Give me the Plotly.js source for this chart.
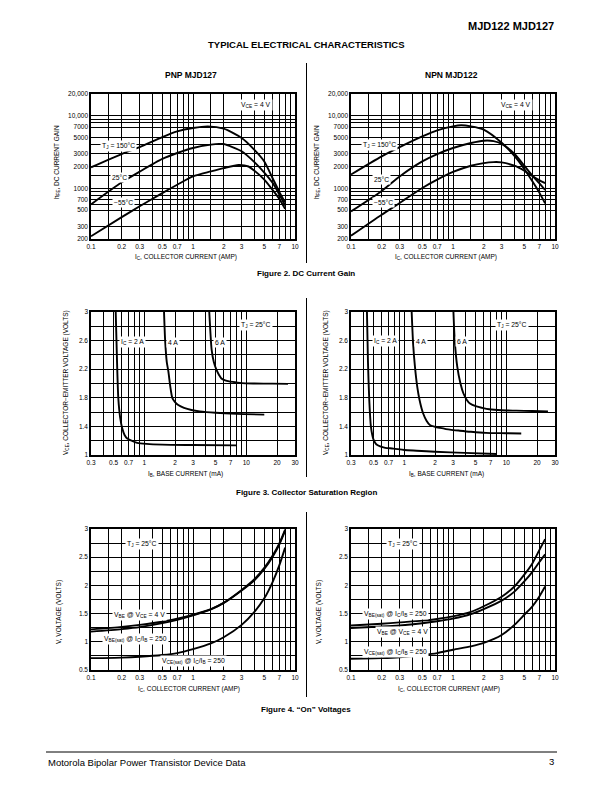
<!DOCTYPE html>
<html><head><meta charset="utf-8">
<script src="https://cdn.plot.ly/plotly-3.0.1.min.js"></script>
<style>html,body{margin:0;padding:0;background:#fff}#chart{width:612px;height:792px}</style>
</head><body><div id="chart"></div>
<script>
// ---------- Figure 2: DC current gain (hFE vs IC) ----------
const pnpHfe150X = [0.1,0.2,0.3,0.5,0.7,1,1.4,2,3,4,5,6,7,8];
const pnpHfe150Y = [1950,2970,3700,5100,6100,6800,7150,6650,4950,3400,2350,1400,900,640];
const pnpHfe25X  = [0.1,0.2,0.3,0.5,0.7,1,1.5,1.8,2,3,4,5,6,7,8];
const pnpHfe25Y  = [600,1210,1700,2540,3070,3600,4000,4100,4080,3250,2300,1650,1200,830,580];
const pnpHfeM55X = [0.1,0.2,0.3,0.5,0.7,1,1.5,2,2.8,3.5,4,5,6,7,8];
const pnpHfeM55Y = [218,400,565,860,1120,1460,1710,1900,2100,2000,1750,1320,960,720,520];

const npnHfe150X = [0.1,0.2,0.3,0.5,0.7,1,1.2,1.5,2,3,4,5,6,7,8];
const npnHfe150Y = [1550,2760,3700,5200,6300,7150,7400,7150,6450,4250,2800,1850,1250,880,620];
const npnHfe25X  = [0.1,0.2,0.3,0.5,0.7,1,1.5,2,2.5,3,4,5,6,7,8];
const npnHfe25Y  = [480,920,1460,2350,2970,3600,4220,4540,4480,4100,3000,2050,1500,1180,950];
const npnHfeM55X = [0.1,0.2,0.3,0.5,0.7,1,1.5,2,2.5,3,4,5,6,7,8];
const npnHfeM55Y = [222,433,628,1010,1315,1680,2050,2230,2300,2280,2050,1750,1480,1300,1180];

// ---------- Figure 3: collector saturation region (VCE vs IB) ----------
const pnpSat2X = [0.524,0.54,0.556,0.58,0.608,0.64,0.68,0.75,0.85,1.05,1.5,3,8];
const pnpSat2Y = [3.0,2.3,1.79,1.52,1.37,1.28,1.23,1.20,1.17,1.155,1.145,1.14,1.135];
const pnpSat4X = [1.56,1.6,1.66,1.72,1.8,1.88,2.0,2.15,2.45,2.9,3.5,5,8,15];
const pnpSat4Y = [3.0,2.6,2.3,2.17,1.95,1.80,1.74,1.70,1.66,1.63,1.61,1.59,1.575,1.565];
const pnpSat6X = [4.33,4.45,4.57,4.8,5.1,5.4,5.7,6.2,6.8,8,9,12,18,25.6];
const pnpSat6Y = [3.0,2.7,2.47,2.3,2.19,2.12,2.07,2.045,2.03,2.015,2.005,2.0,1.998,1.995];

const npnSat2X = [0.43,0.44,0.453,0.47,0.485,0.5,0.53,0.58,0.65,0.78,1.0,1.32,2,3.9,8];
const npnSat2Y = [3.0,2.3,1.77,1.40,1.28,1.21,1.15,1.12,1.10,1.09,1.07,1.06,1.045,1.03,1.015];
const npnSat4X = [1.18,1.22,1.27,1.34,1.41,1.53,1.65,1.78,2.0,2.24,2.8,3.5,4.5,6.3,10,14];
const npnSat4Y = [3.0,2.55,2.24,1.95,1.77,1.58,1.48,1.42,1.395,1.38,1.355,1.34,1.325,1.31,1.305,1.30];
const npnSat6X = [3.03,3.12,3.3,3.55,3.8,4.1,4.4,5.1,5.8,6.8,9,12.5,18,25.6];
const npnSat6Y = [3.0,2.6,2.24,2.0,1.86,1.77,1.72,1.68,1.66,1.64,1.625,1.62,1.615,1.61];

// ---------- Figure 4: "On" voltages (V vs IC) ----------
const onX = [0.1,0.2,0.3,0.5,0.7,1,1.5,2,3,4,5,6,7,8];
const pnpVbe    = [1.22,1.265,1.30,1.355,1.41,1.48,1.58,1.69,1.91,2.09,2.29,2.50,2.72,2.97];
const pnpVbeSat = [1.18,1.225,1.26,1.33,1.39,1.47,1.575,1.69,1.92,2.11,2.31,2.52,2.74,2.99];
const pnpVceSat = [0.71,0.72,0.735,0.765,0.80,0.87,0.97,1.08,1.30,1.53,1.77,2.05,2.35,2.67];
const npnVbeSat = [1.29,1.32,1.345,1.375,1.405,1.45,1.53,1.63,1.80,1.98,2.19,2.39,2.62,2.82];
const npnVbe    = [1.245,1.27,1.29,1.33,1.365,1.41,1.49,1.58,1.73,1.89,2.07,2.24,2.41,2.55];
const npnVceSat = [0.70,0.71,0.725,0.765,0.80,0.86,0.92,0.98,1.12,1.30,1.48,1.63,1.80,1.98];

// ---------- tick labels ----------
const icTicks = [0.1,0.2,0.3,0.5,0.7,1,2,3,5,7,10];
const icTickText = ['0.1','0.2','0.3','0.5','0.7','1','2','3','5','7','10'];
const icMinor = [0.15,0.4,0.6,0.8,0.9,1.5,4,6,8,9];
const hfeTicks = [200,300,500,700,1000,2000,3000,5000,7000,10000,20000];
const hfeTickText = ['200','300','500','700','1000','2000','3000','5000','7000','10,000','20,000'];
const hfeMinor = [600,800,900,1500,4000,8000,9000];
const ibTicks = [0.3,0.5,0.7,1,2,3,5,7,10,20,30];
const ibTickText = ['0.3','0.5','0.7','1','2','3','5','7','10','20','30'];
const ibMinor = [0.4,0.6,0.8,0.9,4,6,8,9];
const vceTicks = [1,1.4,1.8,2.2,2.6,3];
const vceTickText = ['1','1.4','1.8','2.2','2.6','3'];
const vceMinor = [1.2,1.6,2.0,2.4,2.8];
const vTicks = [0.5,1,1.5,2,2.5,3];
const vTickText = ['0.5','1','1.5','2','2.5','3'];
const vMinor = [0.75,1.25,1.75,2.25,2.75];

// ---------- layout helpers ----------
const W = 612, H = 792;
const fx = x => x / W;
const fy = y => 1 - y / H;
const FONT = 'Liberation Sans, Arial, Helvetica, sans-serif';

function ax(type, range, dom, anchor, tv, tt, mv) {
  return {
    type, range, domain: dom, anchor,
    showline: true, mirror: true, linecolor: 'black', linewidth: 1.7,
    showgrid: true, gridcolor: 'black', gridwidth: 1, zeroline: false,
    ticks: '', tickmode: 'array', tickvals: tv, ticktext: tt,
    tickfont: {family: FONT, size: 6.5, color: 'black'},
    minor: {tickmode: 'array', tickvals: mv, showgrid: true, gridcolor: 'black', gridwidth: 1, ticks: ''},
    fixedrange: true
  };
}

const L = [fx(91), fx(295)], R = [fx(351), fx(555)];
const ROW1 = [fy(239), fy(94)], ROW2 = [fy(455), fy(312)], ROW3 = [fy(670), fy(529)];
const lg = v => Math.log10(v);

function tr(x, y, n) {
  return {x, y, xaxis: 'x' + n, yaxis: 'y' + n, mode: 'lines', hoverinfo: 'skip',
          line: {color: 'black', width: 1.9, shape: 'spline', smoothing: 0.7}};
}

const data = [
  tr(pnpHfe150X, pnpHfe150Y, ''), tr(pnpHfe25X, pnpHfe25Y, ''), tr(pnpHfeM55X, pnpHfeM55Y, ''),
  tr(npnHfe150X, npnHfe150Y, 2), tr(npnHfe25X, npnHfe25Y, 2), tr(npnHfeM55X, npnHfeM55Y, 2),
  tr(pnpSat2X, pnpSat2Y, 3), tr(pnpSat4X, pnpSat4Y, 3), tr(pnpSat6X, pnpSat6Y, 3),
  tr(npnSat2X, npnSat2Y, 4), tr(npnSat4X, npnSat4Y, 4), tr(npnSat6X, npnSat6Y, 4),
  tr(onX, pnpVbe, 5), tr(onX, pnpVbeSat, 5), tr(onX, pnpVceSat, 5),
  tr(onX, npnVbeSat, 6), tr(onX, npnVbe, 6), tr(onX, npnVceSat, 6)
];

function ann(text, x, y, o) {
  return Object.assign({text, x: fx(x), y: fy(y), xref: 'paper', yref: 'paper', showarrow: false,
    xanchor: 'center', yanchor: 'middle', font: {family: FONT, size: 6.5, color: 'black'}}, o || {});
}
const inPlot = {bgcolor: 'white', borderpad: 1, font: {family: FONT, size: 6.8, color: 'black'}};
const bold = s => ({family: FONT, size: s, color: 'black', weight: 'bold'});

const annotations = [
  ann('<b>MJD122 MJD127</b>', 556, 26, {xanchor: 'right', font: bold(11)}),
  ann('<b>TYPICAL ELECTRICAL CHARACTERISTICS</b>', 306, 44, {font: bold(9.5)}),
  ann('<b>PNP MJD127</b>', 191, 75, {font: bold(8.5)}),
  ann('<b>NPN MJD122</b>', 451, 75, {font: bold(8.5)}),
  // figure 2
  ann('V<sub>CE</sub> = 4 V', 256, 105, inPlot),
  ann('T<sub>J</sub> = 150°C', 118, 146, inPlot),
  ann('25°C', 119, 177, inPlot),
  ann('−55°C', 123, 203, inPlot),
  ann('V<sub>CE</sub> = 4 V', 516, 105, inPlot),
  ann('T<sub>J</sub> = 150°C', 379, 145, inPlot),
  ann('25°C', 381, 179, inPlot),
  ann('−55°C', 383, 203, inPlot),
  ann('h<sub>FE</sub>, DC CURRENT GAIN', 57, 162, {textangle: -90}),
  ann('h<sub>FE</sub>, DC CURRENT GAIN', 317, 162, {textangle: -90}),
  ann('I<sub>C</sub>, COLLECTOR CURRENT (AMP)', 186, 257),
  ann('I<sub>C</sub>, COLLECTOR CURRENT (AMP)', 446, 257),
  ann('<b>Figure 2. DC Current Gain</b>', 306, 273, {font: bold(8)}),
  // figure 3
  ann('I<sub>C</sub> = 2 A', 132, 342, inPlot),
  ann('4 A', 173, 342, inPlot),
  ann('6 A', 220, 342, inPlot),
  ann('T<sub>J</sub> = 25°C', 256, 325, inPlot),
  ann('I<sub>C</sub> = 2 A', 385, 341, inPlot),
  ann('4 A', 421, 341, inPlot),
  ann('6 A', 462, 341, inPlot),
  ann('T<sub>J</sub> = 25°C', 512, 325, inPlot),
  ann('V<sub>CE</sub>, COLLECTOR−EMITTER VOLTAGE (VOLTS)', 66, 383, {textangle: -90}),
  ann('V<sub>CE</sub>, COLLECTOR−EMITTER VOLTAGE (VOLTS)', 326, 383, {textangle: -90}),
  ann('I<sub>B</sub>, BASE CURRENT (mA)', 186, 474),
  ann('I<sub>B</sub>, BASE CURRENT (mA)', 446, 474),
  ann('<b>Figure 3. Collector Saturation Region</b>', 306, 492, {font: bold(8)}),
  // figure 4
  ann('T<sub>J</sub> = 25°C', 142, 544, inPlot),
  ann('V<sub>BE</sub> @ V<sub>CE</sub> = 4 V', 139, 615, inPlot),
  ann('V<sub>BE(sat)</sub> @ I<sub>C</sub>/I<sub>B</sub> = 250', 135, 639, inPlot),
  ann('V<sub>CE(sat)</sub> @ I<sub>C</sub>/I<sub>B</sub> = 250', 193, 661, inPlot),
  ann('T<sub>J</sub> = 25°C', 403, 544, inPlot),
  ann('V<sub>BE(sat)</sub> @ I<sub>C</sub>/I<sub>B</sub> = 250', 395, 614, inPlot),
  ann('V<sub>BE</sub> @ V<sub>CE</sub> = 4 V', 402, 632, inPlot),
  ann('V<sub>CE(sat)</sub> @ I<sub>C</sub>/I<sub>B</sub> = 250', 395, 652, inPlot),
  ann('V, VOLTAGE (VOLTS)', 59, 612, {textangle: -90}),
  ann('V, VOLTAGE (VOLTS)', 319, 612, {textangle: -90}),
  ann('I<sub>C</sub>, COLLECTOR CURRENT (AMP)', 189, 689),
  ann('I<sub>C</sub>, COLLECTOR CURRENT (AMP)', 449, 689),
  ann('<b>Figure 4. “On” Voltages</b>', 306, 709, {font: bold(8)}),
  // footer
  ann('Motorola Bipolar Power Transistor Device Data', 46, 762, {xanchor: 'left', font: {family: FONT, size: 9.5, color: 'black'}}),
  ann('3', 556, 761, {xanchor: 'right', font: {family: FONT, size: 9.5, color: 'black'}})
];

const vline = (x, y0, y1) => ({type: 'line', xref: 'paper', yref: 'paper', x0: fx(x), x1: fx(x), y0: fy(y0), y1: fy(y1), line: {color: 'black', width: 1}});
const shapes = [
  vline(306.5, 63, 263), vline(306.5, 298, 477), vline(306.5, 512, 697),
  {type: 'line', xref: 'paper', yref: 'paper', x0: fx(46), x1: fx(557), y0: fy(752), y1: fy(752), line: {color: 'black', width: 1}}
];

const layout = {
  width: W, height: H, margin: {l: 0, r: 0, t: 0, b: 0},
  paper_bgcolor: 'white', plot_bgcolor: 'white', showlegend: false,
  font: {family: FONT, color: 'black'},
  xaxis:  ax('log', [lg(0.1), lg(10)], L, 'y', icTicks, icTickText, icMinor),
  yaxis:  ax('log', [lg(200), lg(20000)], ROW1, 'x', hfeTicks, hfeTickText, hfeMinor),
  xaxis2: ax('log', [lg(0.1), lg(10)], R, 'y2', icTicks, icTickText, icMinor),
  yaxis2: ax('log', [lg(200), lg(20000)], ROW1, 'x2', hfeTicks, hfeTickText, hfeMinor),
  xaxis3: ax('log', [lg(0.3), lg(30)], L, 'y3', ibTicks, ibTickText, ibMinor),
  yaxis3: ax('linear', [1, 3], ROW2, 'x3', vceTicks, vceTickText, vceMinor),
  xaxis4: ax('log', [lg(0.3), lg(30)], R, 'y4', ibTicks, ibTickText, ibMinor),
  yaxis4: ax('linear', [1, 3], ROW2, 'x4', vceTicks, vceTickText, vceMinor),
  xaxis5: ax('log', [lg(0.1), lg(10)], L, 'y5', icTicks, icTickText, icMinor),
  yaxis5: ax('linear', [0.5, 3], ROW3, 'x5', vTicks, vTickText, vMinor),
  xaxis6: ax('log', [lg(0.1), lg(10)], R, 'y6', icTicks, icTickText, icMinor),
  yaxis6: ax('linear', [0.5, 3], ROW3, 'x6', vTicks, vTickText, vMinor),
  annotations, shapes
};

Plotly.newPlot('chart', data, layout, {staticPlot: true, displayModeBar: false});
</script></body></html>
